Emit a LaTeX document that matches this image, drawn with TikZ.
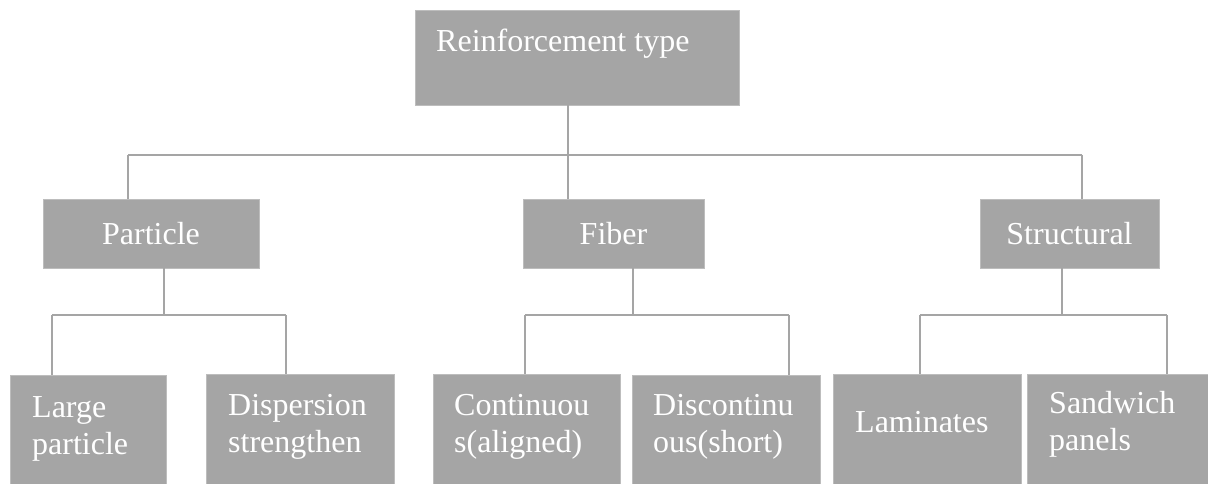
\documentclass[tikz,border=0pt]{standalone}
\usepackage{fontspec}
\setmainfont{Liberation Serif}
\definecolor{boxgray}{HTML}{A5A5A5}
\definecolor{edgegray}{HTML}{BDBDBD}
\begin{document}
\begin{tikzpicture}[x=1pt,y=-1pt,
  box/.style={rectangle, fill=boxgray, draw=edgegray, line width=0.8pt, inner sep=0pt},
  lbl/.style={inner sep=0pt, text=white, font=\fontsize{32}{37}\selectfont, align=left},
  wire/.style={draw=boxgray, line width=2pt}]
\useasboundingbox (0,0) rectangle (1208,484);
% boxes
\node[box, minimum width=324pt, minimum height=95pt] (root) at (577,57.5) {};
\node[box, minimum width=216pt, minimum height=69pt] (particle) at (151,233.5) {};
\node[box, minimum width=181pt, minimum height=69pt] (fiber) at (613.5,233.5) {};
\node[box, minimum width=179pt, minimum height=69pt] (structural) at (1069.5,233.5) {};
\node[box, minimum width=156pt, minimum height=112pt] (large) at (88,431) {};
\node[box, minimum width=188pt, minimum height=112pt] (disp) at (300,430) {};
\node[box, minimum width=187pt, minimum height=112pt] (cont) at (526.5,430) {};
\node[box, minimum width=188pt, minimum height=112pt] (discont) at (726,431) {};
\node[box, minimum width=188pt, minimum height=112pt] (lam) at (927,430) {};
\node[box, minimum width=182pt, minimum height=112pt] (sand) at (1118,430) {};
% labels (base anchor = baseline of last line)
\node[lbl, anchor=base west] (troot) at (436,52) {Reinforcement type};
\node[lbl] (tparticle) at (particle.center) {Particle};
\node[lbl] (tfiber) at (fiber.center) {Fiber};
\node[lbl] (tstructural) at (structural.center) {Structural};
\node[lbl, anchor=base west] (tlarge) at (32,454) {Large\\particle};
\node[lbl, anchor=base west] (tdisp) at (228,452) {Dispersion\\strengthen};
\node[lbl, anchor=base west] (tcont) at (454,452) {Continuou\\s(aligned)};
\node[lbl, anchor=base west] (tdiscont) at (653,452) {Discontinu\\ous(short)};
\node[lbl, anchor=base west] (tlam) at (855,432) {Laminates};
\node[lbl, anchor=base west] (tsand) at (1049,450) {Sandwich\\panels};
% bus coordinates
\coordinate (b1l) at (128,155);
\coordinate (b1m) at (568,155);
\coordinate (b1r) at (1082,155);
\coordinate (pb) at (164,315);
\coordinate (pl) at (52,315);
\coordinate (pr) at (286,315);
\coordinate (fb) at (633,315);
\coordinate (fl) at (525,315);
\coordinate (fr) at (789,315);
\coordinate (sb) at (1062,315);
\coordinate (sl) at (920,315);
\coordinate (sr) at (1167,315);
% connectors
\draw[wire] (b1m |- root.south) -- (b1m |- fiber.north);
\draw[wire] (b1l) -- (b1r);
\draw[wire] (b1l) -- (b1l |- particle.north);
\draw[wire] (b1r) -- (b1r |- structural.north);
\draw[wire] (pb |- particle.south) -- (pb);
\draw[wire] (pl) -- (pr);
\draw[wire] (pl) -- (pl |- large.north);
\draw[wire] (pr) -- (pr |- disp.north);
\draw[wire] (fb |- fiber.south) -- (fb);
\draw[wire] (fl) -- (fr);
\draw[wire] (fl) -- (fl |- cont.north);
\draw[wire] (fr) -- (fr |- discont.north);
\draw[wire] (sb |- structural.south) -- (sb);
\draw[wire] (sl) -- (sr);
\draw[wire] (sl) -- (sl |- lam.north);
\draw[wire] (sr) -- (sr |- sand.north);
\end{tikzpicture}
\end{document}
